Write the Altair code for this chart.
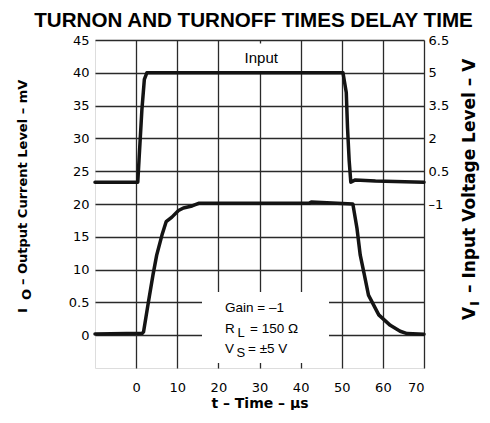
import altair as alt
import pandas as pd

# ---------------- data ----------------
chart_title = "TURNON AND TURNOFF TIMES DELAY TIME"

# Output current (left axis, mV)
out_t = [-10, 1.5, 1.8, 3.0, 4.1, 5.0, 6.3, 7.3, 8.7, 10.3, 11.5, 13.6, 15.2,
         42.0, 42.6, 52.7, 53.7, 54.5, 55.5, 56.5, 59.0, 61.8, 64.2, 65.9, 70]
out_mv = [0.2, 0.3, 0.5, 5.1, 9.2, 12.2, 15.3, 17.3, 18.0, 19.0, 19.4, 19.7, 20.1,
          20.1, 20.3, 20.0, 16.3, 12.2, 9.2, 6.1, 3.1, 1.5, 0.6, 0.25, 0.15]

# Input voltage (right axis, V)
in_t = [-10, 0.4, 0.7, 1.4, 2.0, 2.6, 50.3, 51.1, 51.4, 51.8, 52.2, 53.3, 58.2, 70]
in_v = [0.0, 0.0, 1.0, 3.3, 4.7, 5.0, 5.0, 4.1, 2.5, 1.0, 0.0, 0.1, 0.05, 0.0]

x_ticks = [0, 10, 20, 30, 40, 50, 60, 70]
left_ticks = [0, 5, 10, 15, 20, 25, 30, 35, 40, 45]
right_ticks = [-1, 0.5, 2, 3.5, 5, 6.5]

W, H = 329, 328
LINE = "#141414"
GRID = "#2a2a2a"
LABEL_FONT = "DejaVu Sans"
TEXT_FONT = "Liberation Sans"

out_df = pd.DataFrame({"t": out_t, "mv": out_mv})
in_df = pd.DataFrame({"t": in_t, "v": in_v})

x_enc = alt.X(
    "t:Q",
    scale=alt.Scale(domain=[-10, 70], nice=False, zero=False),
    axis=alt.Axis(values=x_ticks, title="t – Time – µs", grid=True, ticks=False,
                  domain=False, labelPadding=13, labelFont=LABEL_FONT, labelFontSize=13,
                  labelColor="black", titleFont=LABEL_FONT, titleFontSize=14,
                  titleFontWeight="bold", titleColor="black", titlePadding=2,
                  gridColor=GRID, gridWidth=1.3),
)

out_line = alt.Chart(out_df).mark_line(
    color=LINE, strokeWidth=3.5, strokeJoin="round", strokeCap="round"
).encode(
    x=x_enc,
    y=alt.Y("mv:Q", scale=alt.Scale(domain=[-5, 45], nice=False, zero=False),
            axis=alt.Axis(orient="left", values=left_ticks, title=None,
                          labelExpr="datum.value == 5 ? '0.5' : '' + datum.value",
                          grid=True, ticks=False, domain=False, labelPadding=6,
                          labelFont=LABEL_FONT, labelFontSize=13, labelColor="black",
                          gridColor=GRID, gridWidth=1.3)),
)

in_line = alt.Chart(in_df).mark_line(
    color=LINE, strokeWidth=3.5, strokeJoin="round", strokeCap="round"
).encode(
    x=x_enc,
    y=alt.Y("v:Q", scale=alt.Scale(domain=[-8.5, 6.5], nice=False, zero=False),
            axis=alt.Axis(orient="right", values=right_ticks, title=None,
                          labelExpr="datum.value < 0 ? '–' + abs(datum.value) : '' + datum.value",
                          grid=False, ticks=False, domain=False, labelPadding=4,
                          labelFont=LABEL_FONT, labelFontSize=13, labelColor="black")),
)

one = alt.Data(values=[{"k": 1}])


def box(x1, x2, y1, y2):
    return alt.Chart(one).mark_rect(fill="white").encode(
        x=alt.value(x1), x2=alt.value(x2), y=alt.value(y1), y2=alt.value(y2))


def txt(s, x, y, size, font=TEXT_FONT, weight="normal", align="left",
        baseline="alphabetic", angle=0):
    return alt.Chart(one).mark_text(
        text=s, font=font, fontSize=size, fontWeight=weight, align=align,
        baseline=baseline, angle=angle, color="black"
    ).encode(x=alt.value(x), y=alt.value(y))


layers = [
    out_line,
    in_line,
    box(107, 234, 252, 323),
    box(145, 187, 3.5, 31),
    # chart title
    txt(chart_title, 158.5, -13.5, 20.6, weight="bold", align="center"),
    # annotations
    txt("Input", 166.3, 18, 15, align="center", baseline="middle"),
    txt("Gain = –1", 130, 272, 13.5),
    txt("R", 130, 293, 13.5),
    txt("L", 142.5, 297, 13),
    txt("= 150 Ω", 155, 293, 13.5),
    txt("V", 130, 312.5, 13.5),
    txt("S", 141.5, 316.5, 13),
    txt("= ±5 V", 153, 312.5, 13.5),
    # left axis title (I_O – Output Current Level – mV)
    txt("I", -68, 273, 13, font=LABEL_FONT, weight="bold", angle=270),
    txt("O", -64, 260, 13, font=LABEL_FONT, weight="bold", angle=270),
    txt("– Output Current Level – mV", -68, 245, 13, font=LABEL_FONT, weight="bold", angle=270),
    # right axis title (V_I – Input Voltage Level – V)
    txt("V", 380, 280, 17, font=LABEL_FONT, weight="bold", angle=270),
    txt("I", 384, 266, 13, font=LABEL_FONT, weight="bold", angle=270),
    txt("– Input Voltage Level – V", 380, 253, 17, font=LABEL_FONT, weight="bold", angle=270),
]

chart = alt.layer(*layers).resolve_scale(y="independent").properties(
    width=W, height=H,
    autosize=alt.AutoSizeParams(type="none"),
    padding={"left": 87, "top": 32, "right": 58, "bottom": 42},
).configure_view(stroke="black", strokeWidth=2.5).configure(background="white")

chart.save("out.html", embed_options={"renderer": "svg", "actions": False})
